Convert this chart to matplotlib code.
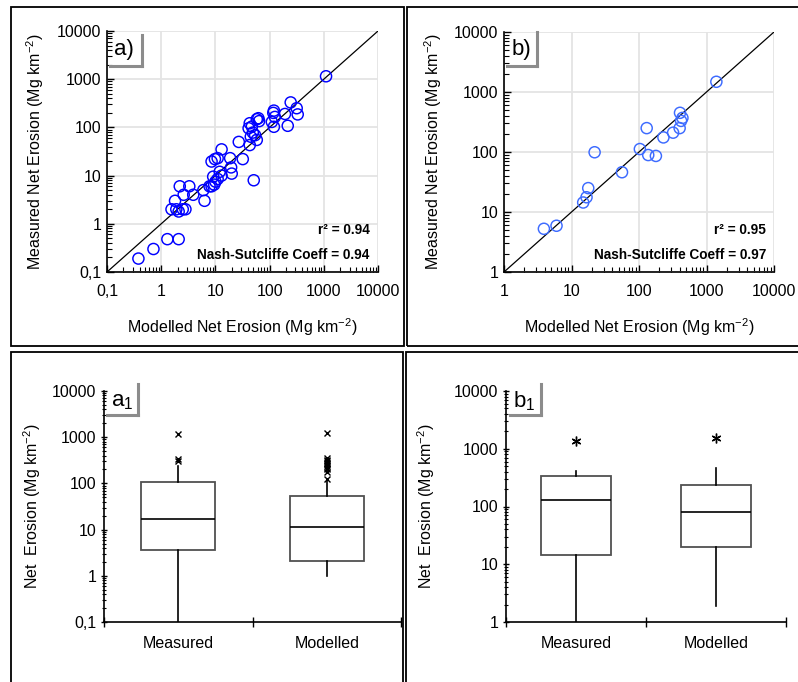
import matplotlib
matplotlib.use("Agg")
import matplotlib.pyplot as plt
from matplotlib.ticker import FixedLocator, FuncFormatter, LogLocator, NullFormatter
from matplotlib.lines import Line2D
from matplotlib.patches import Rectangle

plt.rcParams['font.family'] = ['Liberation Sans', 'DejaVu Sans']
plt.rcParams['mathtext.fontset'] = 'custom'
plt.rcParams['mathtext.rm'] = 'Liberation Sans'
plt.rcParams['mathtext.it'] = 'Liberation Sans:italic'
plt.rcParams['mathtext.bf'] = 'Liberation Sans:bold'

# ---------------- data ----------------
# Panel a: modelled vs measured net erosion (Mg km-2)
a_modelled = [1100, 245, 316, 330, 192, 216, 120, 117, 125, 110, 120, 62, 64, 58, 43, 41,
              47, 49, 45, 54, 58, 43, 51, 27, 32, 18.7, 13, 11, 8.5, 9.8, 12, 19.5, 20,
              13, 11, 10, 9.1, 9.5, 8.5, 7.8, 6, 6.3, 3.9, 3.3, 2.2, 2.6, 1.8, 1.55, 1.9,
              2.1, 2.5, 2.8, 1.3, 2.1, 0.72, 0.38]
a_measured = [1150, 330, 250, 186, 190, 108, 223, 200, 165, 130, 103, 155, 135, 148, 122, 96,
              104, 78, 64, 69, 55, 43, 8, 50, 22, 23, 35, 23, 19.6, 22, 12, 14.8, 11,
              10, 8.5, 7.5, 9.5, 6.5, 6, 6, 5, 3, 4, 6, 6, 4, 3, 2, 2,
              1.8, 2, 2, 0.48, 0.48, 0.3, 0.19]

# Panel b
b_modelled = [1400, 405, 440, 420, 400, 320, 230, 130, 103, 137, 178, 22, 56, 17.7, 16.7,
              14.9, 6.0, 3.9]
b_measured = [1480, 450, 370, 330, 250, 210, 175, 250, 112, 89, 86, 99, 46, 25, 17.6,
              14.4, 5.9, 5.25]

a_stats_text = ["r\u00b2 = 0.94", "Nash-Sutcliffe Coeff = 0.94"]
b_stats_text = ["r\u00b2 = 0.95", "Nash-Sutcliffe Coeff = 0.97"]

box_labels = ["Measured", "Modelled"]
# box statistics: [whislo, q1, med, q3, whishi]
a1_measured_box = [0.1, 3.67, 16.6, 109, 240]
a1_measured_fliers = [1150, 330, 300]
a1_modelled_box = [1.0, 2.09, 11.2, 52.6, 110]
a1_modelled_fliers = [1230, 350, 320, 300, 280, 260, 240, 220, 200, 180, 125]
b1_measured_box = [1.0, 14.6, 130, 340, 417]
b1_measured_fliers = [1380]
b1_modelled_box = [1.86, 19.9, 80, 234, 460]
b1_modelled_fliers = [1520]

W, H = 798, 682
fig = plt.figure(figsize=(W / 100, H / 100), dpi=100)


def fx(px):
    return px / W


def fy(py):
    return 1 - py / H


def comma_fmt(v, pos):
    if v < 1:
        return ("%g" % v).replace('.', ',')
    return "%d" % round(v)


# panel frames
for (x0, y0, x1, y1) in [(11, 7, 404, 346), (407, 7, 800, 346), (11, 352, 403, 690), (406, 352, 800, 690)]:
    fig.add_artist(Rectangle((fx(x0), fy(y1)), fx(x1) - fx(x0), fy(y0) - fy(y1),
                             fill=False, edgecolor='black', lw=1.3, transform=fig.transFigure))


def label_box(x0, x1, y0, y1, text, tx, ty, size=16):
    # gray "shadow" lines right and bottom
    fig.add_artist(Line2D([fx(x1), fx(x1)], [fy(y0), fy(y1)], color='#8c8c8c', lw=2.2,
                          transform=fig.transFigure))
    fig.add_artist(Line2D([fx(x0), fx(x1)], [fy(y1), fy(y1)], color='#8c8c8c', lw=2.2,
                          transform=fig.transFigure))
    fig.text(fx(tx), fy(ty), text, fontsize=size, ha='center', va='center')


def scatter_panel(rect, xs, ys, lo, color, stats_text, label, lbox, ylab_x, xlab_y):
    ax = fig.add_axes(rect)
    ax.set_xscale('log')
    ax.set_yscale('log')
    ax.set_xlim(lo, 10000)
    ax.set_ylim(lo, 10000)
    majors = [v for v in [0.1, 1, 10, 100, 1000, 10000] if v >= lo]
    ax.xaxis.set_major_locator(FixedLocator(majors))
    ax.yaxis.set_major_locator(FixedLocator(majors))
    ax.xaxis.set_major_formatter(FuncFormatter(comma_fmt))
    ax.yaxis.set_major_formatter(FuncFormatter(comma_fmt))
    ax.xaxis.set_minor_locator(LogLocator(base=10, subs=range(2, 10), numticks=20))
    ax.yaxis.set_minor_locator(LogLocator(base=10, subs=range(2, 10), numticks=20))
    ax.xaxis.set_minor_formatter(NullFormatter())
    ax.yaxis.set_minor_formatter(NullFormatter())
    ax.tick_params(which='both', direction='in', labelsize=11.5, colors='black')
    ax.tick_params(which='major', length=5, width=1)
    ax.tick_params(which='minor', length=3.5, width=0.8)
    ax.tick_params(axis='x', pad=9)
    ax.tick_params(axis='y', pad=4)
    ax.grid(True, which='major', color='#e4e4e4', lw=1.3)
    ax.set_axisbelow(True)
    for s in ['top', 'right']:
        ax.spines[s].set_visible(False)
    for s in ['left', 'bottom']:
        ax.spines[s].set_linewidth(1.2)
    ax.plot([lo, 10000], [lo, 10000], color='black', lw=0.9, zorder=2)
    ax.scatter(xs, ys, s=64, facecolors='none', edgecolors=color, linewidths=1.05, zorder=3)
    ax.text(0.97, 0.175, stats_text[0], transform=ax.transAxes, ha='right', va='center',
            fontsize=9.8, fontweight='bold')
    ax.text(0.97, 0.07, stats_text[1], transform=ax.transAxes, ha='right', va='center',
            fontsize=9.8, fontweight='bold')
    fig.text(fx(ylab_x), (rect[1] + rect[1] + rect[3]) / 2, "Measured Net Erosion (Mg km$^{-2}$)",
             rotation=90, ha='center', va='center', fontsize=11.5)
    fig.text(rect[0] + rect[2] / 2, fy(xlab_y), "Modelled Net Erosion (Mg km$^{-2}$)",
             ha='center', va='center', fontsize=11.5)
    label_box(*lbox, label[0], label[1], label[2])
    return ax


scatter_panel([fx(107), fy(272), fx(378) - fx(107), fy(31) - fy(272)], a_modelled, a_measured,
              0.1, '#0000ff', a_stats_text, ("a)", 124, 49), (110, 142, 35, 66), 35, 327)
scatter_panel([fx(504), fy(272), fx(774) - fx(504), fy(32) - fy(272)], b_modelled, b_measured,
              1, '#3d6bff', b_stats_text, ("b)", 521, 49), (507, 537, 32, 66), 433, 327)


def box_panel(rect, lo, boxes, fliers, flier_marker, flier_size, label, lbox, ylab_x):
    ax = fig.add_axes(rect)
    ax.set_yscale('log')
    stats = []
    for name, b, f in zip(box_labels, boxes, fliers):
        stats.append(dict(label=name, whislo=b[0], q1=b[1], med=b[2], q3=b[3], whishi=b[4],
                          fliers=f))
    ax.bxp(stats, positions=[0.5, 1.5], widths=0.5, showcaps=False, patch_artist=True,
           boxprops=dict(facecolor='white', edgecolor='#505050', lw=1.3),
           medianprops=dict(color='black', lw=1.2),
           whiskerprops=dict(color='black', lw=1.2),
           flierprops=dict(marker=flier_marker, markersize=flier_size, markeredgecolor='black',
                           markerfacecolor='black', markeredgewidth=1.0, linestyle='none'))
    ax.set_xlim(0, 2)
    ax.set_ylim(lo, 10000)
    majors = [v for v in [0.1, 1, 10, 100, 1000, 10000] if v >= lo]
    ax.yaxis.set_major_locator(FixedLocator(majors))
    ax.yaxis.set_major_formatter(FuncFormatter(comma_fmt))
    ax.yaxis.set_minor_locator(LogLocator(base=10, subs=range(2, 10), numticks=20))
    ax.yaxis.set_minor_formatter(NullFormatter())
    ax.xaxis.set_major_locator(FixedLocator([0, 1, 2]))
    ax.xaxis.set_major_formatter(NullFormatter())
    ax.xaxis.set_minor_locator(FixedLocator([0.5, 1.5]))
    ax.xaxis.set_minor_formatter(FuncFormatter(lambda v, p: box_labels[int(v)]))
    ax.tick_params(axis='x', which='major', direction='inout', length=7, width=1)
    ax.tick_params(axis='x', which='minor', length=0, labelsize=11.5, pad=10)
    ax.tick_params(axis='y', which='major', direction='inout', length=5, width=1, labelsize=11.5, pad=3)
    ax.tick_params(axis='y', which='minor', direction='inout', length=3, width=0.8)
    for s in ['top', 'right']:
        ax.spines[s].set_visible(False)
    for s in ['left', 'bottom']:
        ax.spines[s].set_linewidth(1.2)
    fig.text(fx(ylab_x), rect[1] + rect[3] / 2, "Net  Erosion (Mg km$^{-2}$)",
             rotation=90, ha='center', va='center', fontsize=11.5)
    label_box(*lbox, label[0], label[1], label[2])
    return ax


box_panel([fx(104), fy(622), fx(401) - fx(104), fy(391) - fy(622)], 0.1,
          [a1_measured_box, a1_modelled_box], [a1_measured_fliers, a1_modelled_fliers], 'x', 5,
          ("a$_1$", 122, 401), (107, 138, 384, 415), 32)
box_panel([fx(506), fy(622), fx(786) - fx(506), fy(391) - fy(622)], 1,
          [b1_measured_box, b1_modelled_box], [b1_measured_fliers, b1_modelled_fliers], (6, 2, 0), 7,
          ("b$_1$", 524, 401), (510, 541, 384, 415), 426)

fig.savefig("out.png", dpi=100)
